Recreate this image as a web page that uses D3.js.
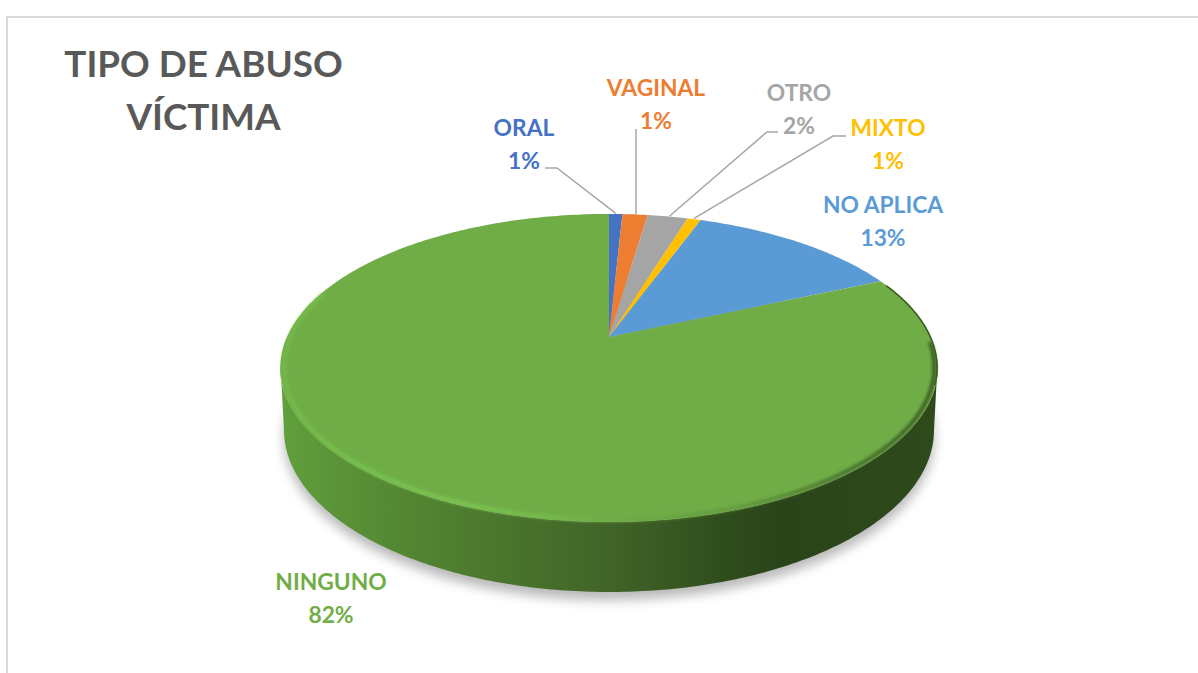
<!DOCTYPE html>
<html><head><meta charset="utf-8">
<script src="https://cdnjs.cloudflare.com/ajax/libs/d3/7.8.5/d3.min.js"></script>
<style>html,body{margin:0;padding:0;background:#fff}svg{display:block}text{font-family:Lato,"Open Sans",sans-serif;font-weight:700}</style>
</head><body><svg id="c" width="1198" height="673"></svg>
<script>
// Data
const categories = ["ORAL","VAGINAL","OTRO","MIXTO","NO APLICA","NINGUNO"];
const sliceShares = [0.8,1.5,2.4,0.8,12.8,81.7];          // slice sizes as drawn
const percentLabels = ["1%","1%","2%","1%","13%","82%"];  // labels as printed
const colors = ["#4472C4","#ED7D31","#A5A5A5","#FFC000","#5B9BD5","#70AD47"];
const titleLines = ["TIPO DE ABUSO","VÍCTIMA"];

// Layout
const labelPos = [[524,136],[656,96],[799,101],[888,136],[883,213],[331,590]];
const leaderBends = [[[545,168],[557,168]],[[636,129],[636,129]],[[778,132],[767,132]],[[846,136],[833,136]],null,null];
const leaderFrac = [0.4,1.6,3.6,5.05];

const svg = d3.select("#c");
const defs = svg.append("defs");

// perspective projection of the pie disc
const cx=609, cy=337, R=322, S=147.8, P=0.201;
function proj(a,r=1){
  const u=r*Math.sin(a), v=-r*Math.cos(a), w=1-P*v;
  return [cx+R*u/w, cy+S*v/w];
}
// the disc's underside, seen as a plain ellipse
const baseCy=430, baseRx=325, baseRy=162;
const baseEdge=(t0,t1)=>{
  const n=Math.ceil(Math.abs(t1-t0)/0.015);
  return d3.range(n+1).map(i=>{const t=t0+(t1-t0)*i/n;return [cx+baseRx*Math.cos(t),baseCy+baseRy*Math.sin(t)];});
};
const pie=d3.pie().sort(null).value(d=>d);
const arcs=pie(sliceShares);
const line=d3.line();
const sweep=(a0,a1,r=1)=>{
  const n=Math.max(2,Math.ceil(Math.abs(a1-a0)/0.015));
  return d3.range(n+1).map(i=>proj(a0+(a1-a0)*i/n,r));
};
const deg=d=>d*Math.PI/180;

// filters and gradients
const blur=(id,s)=>defs.append("filter").attr("id",id).attr("x","-20%").attr("y","-20%").attr("width","140%").attr("height","140%")
  .append("feGaussianBlur").attr("stdDeviation",s);
blur("sh",6); blur("soft",1.4); blur("thin",0.6);
const grad=(id,stops)=>{const g=defs.append("linearGradient").attr("id",id).attr("gradientUnits","userSpaceOnUse")
   .attr("x1",280).attr("x2",938).attr("y1",0).attr("y2",0);
   stops.forEach(s=>g.append("stop").attr("offset",s[0]).attr("stop-color",s[1]));};
grad("wall",[[0,"#619F3C"],[0.12,"#588F36"],[0.3,"#4C7A2E"],[0.5,"#416428"],[0.68,"#2F4D1C"],[0.76,"#2A4419"],[1,"#2E4A1B"]]);
grad("rim",[[0,"#72B84A"],[0.08,"#76C04C"],[0.28,"#7BC552"],[0.42,"#74B84B"],[0.52,"#6FAA46"],[0.7,"#629A3E"],[0.85,"#4A762D"],[1,"#3A5C22"]]);

// frame
svg.append("rect").attr("x",7).attr("y",17).attr("width",1300).attr("height",800)
  .attr("fill","#fff").attr("stroke","#D9D9D9").attr("stroke-width",2);

// shadow
svg.append("path").attr("d",line(baseEdge(0,Math.PI*2).map(p=>[p[0],p[1]+8]))+"Z")
  .attr("fill","#000").attr("opacity",0.28).attr("filter","url(#sh)");

// wall
const front0=deg(100), front1=deg(260);
svg.append("path").attr("d",line(sweep(front0,front1).concat(baseEdge(Math.PI,0)))+"Z").attr("fill","url(#wall)");

// top face slices
svg.append("g").selectAll("path").data(arcs).join("path")
  .attr("d",d=>line([[cx,cy]].concat(sweep(d.startAngle,d.endAngle)))+"Z")
  .attr("fill",(d,i)=>colors[i]);

// bevel: front rim and thin dark edge on the right
svg.append("path").attr("d",line(sweep(deg(92),deg(288),0.99)))
  .attr("fill","none").attr("stroke","url(#rim)").attr("stroke-width",4).attr("filter","url(#soft)");
svg.append("path").attr("d",line(sweep(deg(68),deg(108),0.998)))
  .attr("fill","none").attr("stroke","#3A5C22").attr("stroke-width",1.6).attr("filter","url(#thin)");

// leader lines
const leaderG=svg.append("g").attr("fill","none").attr("stroke","#A6A6A6").attr("stroke-width",1.5);
leaderBends.forEach((b,i)=>{
  if(!b) return;
  const end=proj(leaderFrac[i]/100*Math.PI*2,1.005);
  leaderG.append("path").attr("d",line([b[0],b[1],end]));
});

// labels
categories.forEach((c,i)=>{
  const [x,y]=labelPos[i];
  const t=svg.append("text").attr("text-anchor","middle").attr("fill",colors[i]).attr("font-size",22.8);
  t.append("tspan").attr("x",x).attr("y",y).text(c);
  t.append("tspan").attr("x",x).attr("y",y+33).text(percentLabels[i]);
});

// title
titleLines.forEach((s,i)=>svg.append("text").attr("x",203.5).attr("y",76.5+i*53.5).attr("text-anchor","middle")
  .attr("fill","#595959").attr("font-size",36.8).text(s));
</script></body></html>
